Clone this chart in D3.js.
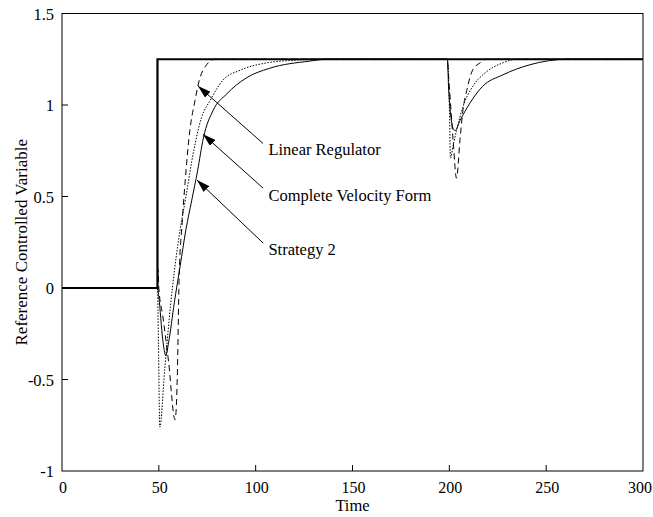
<!DOCTYPE html>
<html><head><meta charset="utf-8">
<script src="https://cdn.jsdelivr.net/npm/d3@7"></script>
<style>body{margin:0;background:#fff}svg{display:block}text{font-family:"Liberation Serif","Times New Roman",serif;fill:#000}</style>
</head><body><svg id="c" width="653" height="517"></svg>
<script>
// ---- data ----
const xTicks = [0, 50, 100, 150, 200, 250, 300];
const yTicks = [-1, -0.5, 0, 0.5, 1, 1.5];
const yTickLabels = ["-1", "-0.5", "0", "0.5", "1", "1.5"];

const refT = [0, 49.3, 49.3, 300];
const refY = [0, 0, 1.25, 1.25];

const linRegT = [0, 49.3, 49.6, 50, 52, 55, 58.4, 59.5, 60.5, 62, 63.5, 66, 68.7, 71, 74, 79, 198.8, 200, 202, 203.7, 205.5, 207, 209, 212, 215.8, 219, 300];
const linRegY = [0, 0, 0.1, 0, -0.15, -0.4, -0.72, -0.5, 0.06, 0.35, 0.57, 0.86, 1.025, 1.14, 1.21, 1.25, 1.25, 1.1, 0.8, 0.6, 0.81, 0.97, 1.08, 1.19, 1.23, 1.25, 1.25];

const velFormT = [0, 49.3, 49.8, 50.5, 53, 56, 60, 64, 68, 72, 76.5, 83, 92, 104, 121, 135, 199, 200, 200.6, 202, 203.7, 207, 212, 219, 227.6, 235, 300];
const velFormY = [0, 0, -0.3, -0.76, -0.45, -0.1, 0.25, 0.5, 0.75, 0.93, 1.025, 1.135, 1.19, 1.227, 1.245, 1.25, 1.25, 1.0, 0.71, 0.78, 0.86, 0.99, 1.1, 1.18, 1.23, 1.25, 1.25];

const strat2T = [0, 49.3, 50, 52, 53.6, 55, 58, 61, 64, 67, 70, 73, 78, 85, 95.5, 107, 128, 137, 199, 199.6, 201, 202, 203, 205.5, 210.6, 217, 227.7, 241.6, 261, 300];
const strat2Y = [0, 0, -0.05, -0.28, -0.37, -0.3, -0.08, 0.12, 0.32, 0.48, 0.64, 0.82, 0.97, 1.06, 1.15, 1.2, 1.24, 1.25, 1.25, 1.1, 0.92, 0.87, 0.86, 0.915, 1.01, 1.1, 1.165, 1.22, 1.25, 1.25];

const labels = ["Linear Regulator", "Complete Velocity Form", "Strategy 2"];
const arrowTip = [[70.2, 1.104], [72.8, 0.84], [69.7, 0.59]];
const arrowTail = [[103.8, 0.79], [103.8, 0.546], [103.8, 0.246]];
const labelPos = [[106.6, 0.725], [106.6, 0.478], [106.6, 0.178]];

// ---- chart ----
const svg = d3.select("#c");
const x = d3.scaleLinear([0, 300], [62, 643]);
const y = d3.scaleLinear([-1, 1.5], [471, 13.5]);

const defs = svg.append("defs");
defs.append("marker").attr("id", "ah").attr("viewBox", "0 0 13 8").attr("refX", 13).attr("refY", 4)
  .attr("markerWidth", 13).attr("markerHeight", 8).attr("markerUnits", "userSpaceOnUse").attr("orient", "auto")
  .append("path").attr("d", "M0,0L13,4L0,8Z").attr("fill", "#000");

const line = d3.line().x(d => x(d[0])).y(d => y(d[1])).curve(d3.curveMonotoneX);
const lineLin = d3.line().x(d => x(d[0])).y(d => y(d[1]));
const zip = (a, b) => a.map((v, i) => [v, b[i]]);

// box
svg.append("rect").attr("x", x(0)).attr("y", y(1.5)).attr("width", x(300) - x(0)).attr("height", y(-1) - y(1.5))
  .attr("fill", "none").attr("stroke", "#000").attr("stroke-width", 1);

// ticks (inward)
svg.append("g").selectAll("line").data(xTicks.slice(1, -1)).join("line")
  .attr("x1", d => x(d)).attr("x2", d => x(d)).attr("y1", y(-1)).attr("y2", y(-1) - 6).attr("stroke", "#000");
svg.append("g").selectAll("line").data(yTicks.slice(1, -1)).join("line")
  .attr("x1", x(0)).attr("x2", x(0) + 6).attr("y1", d => y(d)).attr("y2", d => y(d)).attr("stroke", "#000");

svg.append("g").selectAll("text").data(xTicks).join("text")
  .attr("x", d => d === 300 ? x(d) - 3 : x(d) + 1).attr("y", y(-1) + 22).attr("text-anchor", "middle").attr("font-size", 16).text(d => d);
svg.append("g").selectAll("text").data(yTicks).join("text")
  .attr("x", x(0) - 8).attr("y", d => y(d) + 6).attr("text-anchor", "end").attr("font-size", 16.5)
  .text((d, i) => yTickLabels[i]);

svg.append("text").attr("x", (x(0) + x(300)) / 2).attr("y", 511).attr("text-anchor", "middle").attr("font-size", 16.5).text("Time");
svg.append("text").attr("transform", `translate(27,${(y(1.5) + y(-1)) / 2}) rotate(-90)`).attr("text-anchor", "middle")
  .attr("font-size", 17).text("Reference Controlled Variable");

// curves
svg.append("path").attr("d", line(zip(strat2T, strat2Y))).attr("fill", "none").attr("stroke", "#000").attr("stroke-width", 1);
svg.append("path").attr("d", line(zip(velFormT, velFormY))).attr("fill", "none").attr("stroke", "#000").attr("stroke-width", 1).attr("stroke-dasharray", "1.5,1.5");
svg.append("path").attr("d", line(zip(linRegT, linRegY))).attr("fill", "none").attr("stroke", "#000").attr("stroke-width", 1).attr("stroke-dasharray", "6,4");
svg.append("path").attr("d", lineLin(zip(refT, refY))).attr("fill", "none").attr("stroke", "#000").attr("stroke-width", 2.2);

// annotations
labels.forEach((lab, i) => {
  svg.append("line").attr("x1", x(arrowTail[i][0])).attr("y1", y(arrowTail[i][1]))
    .attr("x2", x(arrowTip[i][0])).attr("y2", y(arrowTip[i][1])).attr("stroke", "#000").attr("stroke-width", 1)
    .attr("marker-end", "url(#ah)");
  svg.append("text").attr("x", x(labelPos[i][0])).attr("y", y(labelPos[i][1])).attr("font-size", 16.5).text(lab);
});
</script></body></html>
